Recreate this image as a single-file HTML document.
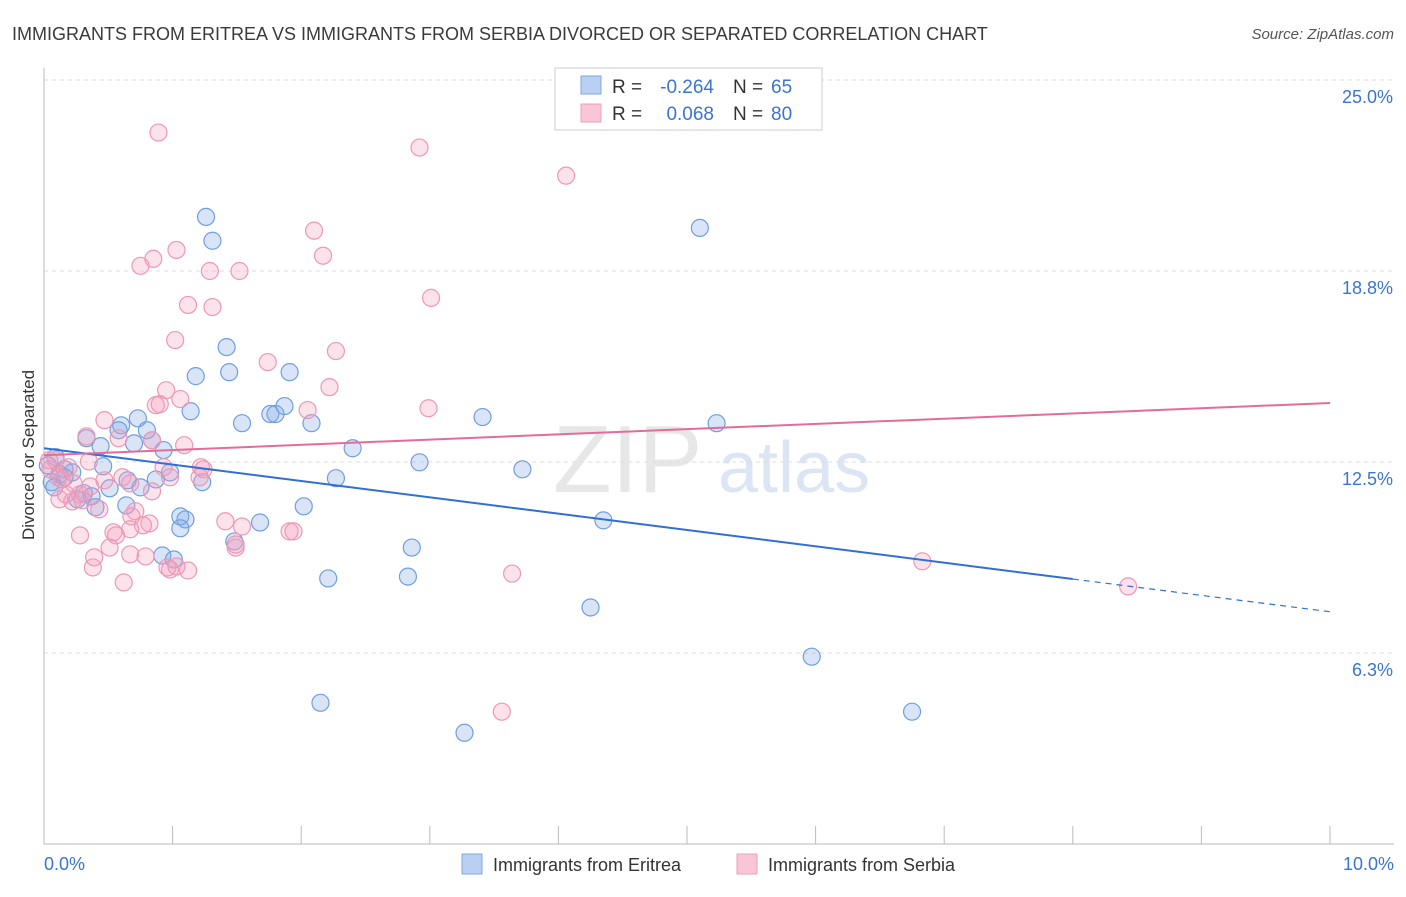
<!DOCTYPE html>
<html><head><meta charset="utf-8"><style>
body{margin:0;background:#fff;font-family:"Liberation Sans",sans-serif;}
svg text{font-family:"Liberation Sans",sans-serif;}
</style></head><body>
<svg id="chart" width="1406" height="892" viewBox="0 0 1406 892" xmlns="http://www.w3.org/2000/svg">
<text x="12" y="40" font-size="18" fill="#3a3a3a">IMMIGRANTS FROM ERITREA VS IMMIGRANTS FROM SERBIA DIVORCED OR SEPARATED CORRELATION CHART</text>
<text x="1394" y="39" font-size="15" fill="#555" font-style="italic" text-anchor="end">Source: ZipAtlas.com</text>
<g>
<text x="553" y="492" font-size="96" fill="#d8d8d8" font-family="Liberation Serif" opacity="0.6">ZIP</text>
<text x="718" y="492" font-size="72" fill="#b8cdea" opacity="0.5">atlas</text>
</g>
<g id="grid"></g>
<g id="axes"></g>
<g id="points"></g>
<g id="trends"></g>
<text transform="translate(34,455) rotate(-90)" font-size="17" fill="#333" text-anchor="middle">Divorced or Separated</text>
<g>
<rect x="555" y="68" width="267" height="62" fill="#fff" stroke="#ccc"/>
<rect x="581" y="76" width="20" height="18" fill="#b9d0f3" stroke="#7ea7e0"/>
<rect x="581" y="104" width="20" height="18" fill="#f8c6d6" stroke="#eea0b9"/>
<text x="612" y="93" font-size="19" fill="#333">R =</text>
<text x="714" y="93" font-size="19" fill="#3a75d0" text-anchor="end">-0.264</text>
<text x="733" y="93" font-size="19" fill="#333">N =</text>
<text x="771" y="93" font-size="19" fill="#3a75d0">65</text>
<text x="612" y="120" font-size="19" fill="#333">R =</text>
<text x="714" y="120" font-size="19" fill="#3a75d0" text-anchor="end">0.068</text>
<text x="733" y="120" font-size="19" fill="#333">N =</text>
<text x="771" y="120" font-size="19" fill="#3a75d0">80</text>
</g>
<g>
<rect x="462" y="854" width="20" height="20" fill="#b9d0f3" stroke="#7ea7e0"/>
<text x="493" y="871" font-size="18" fill="#333">Immigrants from Eritrea</text>
</g>
<g>
<rect x="737" y="854" width="20" height="20" fill="#f8c6d6" stroke="#eea0b9"/>
<text x="768" y="871" font-size="18" fill="#333">Immigrants from Serbia</text>
</g>
</svg>
<script>
const yTicks=[6.25,12.5,18.75,25];
const yTickLabels=["6.3%","12.5%","18.8%","25.0%"];
const xTicks=[0,1,2,3,4,5,6,7,8,9,10];
const xEndLabels=["0.0%","10.0%"];
const eritreaX=[1.26,1.31,5.10,1.42,1.44,1.18,1.91,1.14,1.54,1.76,1.80,1.87,2.08,3.41,5.23,2.40,2.92,3.72,2.27,2.02,4.35,1.68,1.48,2.86,2.21,2.83,4.25,5.97,2.15,6.75,3.27,0.73,0.60,0.80,0.84,0.70,0.93,0.33,0.44,0.58,0.98,0.87,1.23,0.75,0.65,0.51,0.46,0.37,0.26,0.40,0.31,0.09,0.16,0.22,0.12,0.06,0.08,0.16,0.03,1.06,1.10,1.06,0.92,1.01,0.64];
const eritreaY=[20.52,19.74,20.16,16.26,15.44,15.31,15.44,14.16,13.77,14.07,14.07,14.33,13.77,13.97,13.77,12.95,12.49,12.26,11.97,11.05,10.59,10.52,9.90,9.70,8.69,8.75,7.74,6.13,4.62,4.33,3.64,13.93,13.70,13.54,13.21,13.11,12.89,13.28,13.02,13.54,12.16,11.93,11.84,11.67,11.90,11.64,12.36,11.38,11.28,11.02,11.48,12.66,12.26,12.16,12.10,11.84,11.67,12.00,12.39,10.72,10.62,10.33,9.44,9.31,11.08];
const serbiaX=[0.89,2.92,4.06,2.10,2.17,1.03,0.85,0.75,1.29,1.52,3.01,1.12,1.31,1.02,2.27,1.74,2.22,0.95,1.06,0.87,0.90,2.05,2.99,0.47,0.33,0.58,1.09,0.93,1.22,1.24,0.35,0.19,0.09,0.05,0.11,0.23,0.36,0.47,0.61,0.67,0.84,0.28,0.22,0.12,0.43,0.71,0.68,0.82,0.77,0.54,0.56,0.67,1.41,1.54,1.91,1.94,0.28,0.51,0.39,0.67,0.38,0.79,0.98,1.12,0.62,1.49,1.49,3.64,6.83,8.43,3.56,1.03,0.96,0.17,0.04,0.30,0.14,1.21,0.84,0.98];
const serbiaY=[23.28,22.79,21.87,20.07,19.25,19.44,19.15,18.92,18.75,18.75,17.87,17.64,17.57,16.49,16.13,15.77,14.95,14.85,14.56,14.36,14.39,14.20,14.26,13.87,13.34,13.28,13.05,12.33,12.33,12.26,12.52,12.33,12.56,12.26,12.00,11.80,11.70,11.90,12.00,11.80,11.54,11.44,11.21,11.28,10.95,10.89,10.72,10.49,10.43,10.20,10.10,10.30,10.56,10.39,10.23,10.23,10.10,9.70,9.38,9.48,9.05,9.41,8.98,8.95,8.56,9.70,9.80,8.85,9.25,8.43,4.33,9.08,9.05,11.44,12.56,11.25,11.93,12.00,13.21,12.00];
const eritreaTrend=[12.95,7.6];
const serbiaTrend=[12.72,14.43];
const eritreaSolidEnd=8;

const NS="http://www.w3.org/2000/svg";
const X0=44,X1=1330,Y0=844,Y25=80;
function sx(v){return X0+(X1-X0)*v/10;}
function sy(v){return Y0-(Y0-Y25)*v/25;}
function mk(tag,attrs,parent){const e=document.createElementNS(NS,tag);for(const k in attrs)e.setAttribute(k,attrs[k]);document.getElementById(parent).appendChild(e);return e;}

yTicks.forEach((t,i)=>{
 const l=mk('line',{x1:X0,x2:1394,y1:sy(t),y2:sy(t),stroke:'#ddd','stroke-dasharray':'4,4'},'grid');
 
 
 const tx=mk('text',{x:1393,y:sy(t)+23,'font-size':18,fill:'#3a75d0','text-anchor':'end'},'axes');
 tx.textContent=yTickLabels[i];
 
 
});
const ax=mk('line',{x1:X0,x2:X0,y1:68,y2:Y0,stroke:'#bbb'},'axes');


const bx=mk('line',{x1:X0,x2:1394,y1:Y0,y2:Y0,stroke:'#bbb'},'axes');


xTicks.forEach(t=>{
 const l=mk('line',{x1:sx(t),x2:sx(t),y1:Y0-18,y2:Y0,stroke:'#bbb'},'axes');
 
 
});
[[0,'start',X0],[1,'end',1394]].forEach(([i,a,x])=>{
 const tx=mk('text',{x:x,y:870,'font-size':18,fill:'#3a75d0','text-anchor':a},'axes');
 tx.textContent=xEndLabels[i];
 
 
});
function dots(xs,ys,fill,stroke,name){
 xs.forEach((x,i)=>{
  const c=mk('circle',{cx:sx(x),cy:sy(ys[i]),r:8.5,fill:fill,stroke:stroke,'stroke-width':1.2},'points');
  
  
 });
}
dots(eritreaX,eritreaY,'rgba(130,170,230,0.3)','#6f9fe0','eritrea-point');
dots(serbiaX,serbiaY,'rgba(245,160,190,0.3)','#ee98b4','serbia-point');
function lerp(a,x){return a[0]+(a[1]-a[0])*x/10;}
const t1=mk('line',{x1:sx(0),y1:sy(eritreaTrend[0]),x2:sx(eritreaSolidEnd),y2:sy(lerp(eritreaTrend,eritreaSolidEnd)),stroke:'#2f6fd6','stroke-width':2},'trends');


const t2=mk('line',{x1:sx(eritreaSolidEnd),y1:sy(lerp(eritreaTrend,eritreaSolidEnd)),x2:sx(10),y2:sy(eritreaTrend[1]),stroke:'#2f6fd6','stroke-width':1.2,'stroke-dasharray':'6,5'},'trends');


const t3=mk('line',{x1:sx(0),y1:sy(serbiaTrend[0]),x2:sx(10),y2:sy(serbiaTrend[1]),stroke:'#e56b98','stroke-width':2},'trends');


</script>
</body></html>
